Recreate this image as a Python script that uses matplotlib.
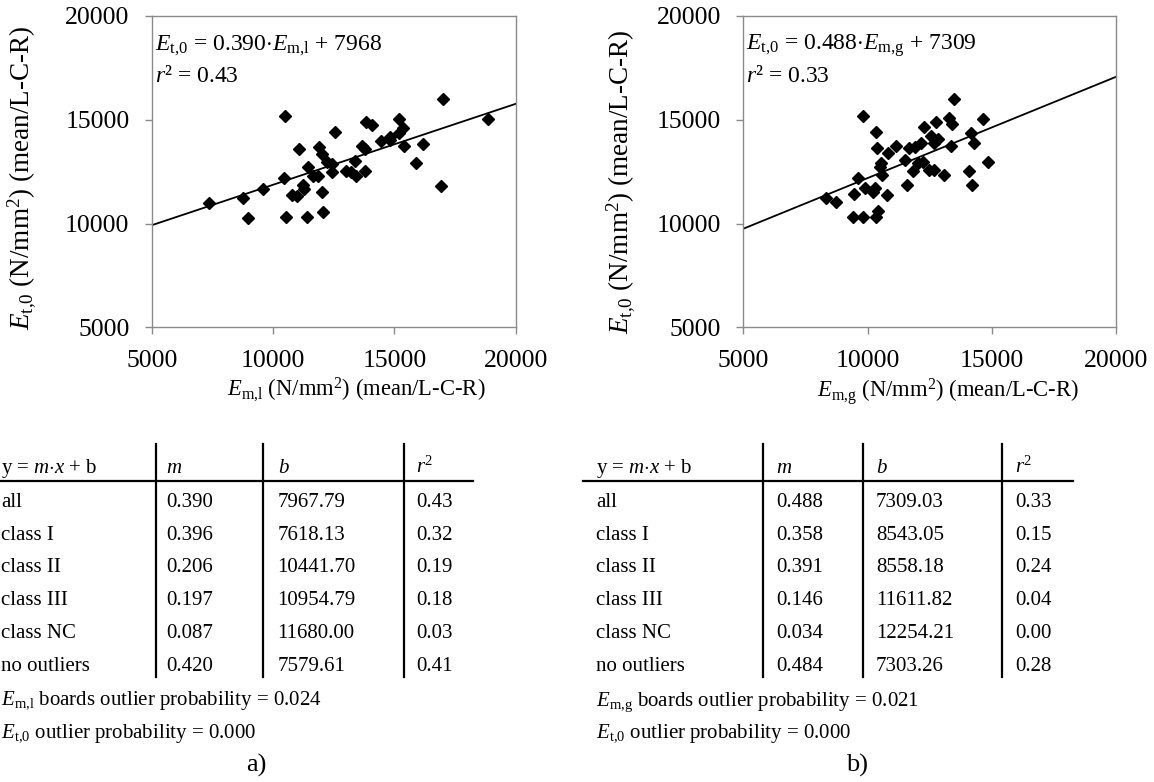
import matplotlib
matplotlib.use("Agg")
import matplotlib.pyplot as plt
from matplotlib.lines import Line2D
import numpy as np

plt.rcParams["font.family"] = ["Liberation Serif", "DejaVu Serif"]
plt.rcParams["mathtext.fontset"] = "custom"
plt.rcParams["mathtext.rm"] = "Liberation Serif"
plt.rcParams["mathtext.it"] = "Liberation Serif:italic"
plt.rcParams["mathtext.bf"] = "Liberation Serif:bold"

# --- data: board means (N/mm2) ---------------------------------------------
em_l = [7350, 8780, 8960, 9580, 10460, 10490, 10520, 10770, 10970, 11080,
        11240, 11270, 11380, 11450, 11650, 11860, 11900, 12000, 12020, 12060,
        12240, 12420, 12430, 12570, 13020, 13230, 13390, 13430, 13660, 13770,
        13810, 13840, 14070, 14430, 14800, 14840, 15180, 15210, 15340, 15410,
        15890, 16200, 16910, 17020, 18860]
et0_l = [11010, 11220, 10280, 11660, 12180, 15190, 10320, 11370, 11340, 13600,
         11860, 11660, 10320, 12740, 12310, 12310, 13710, 13360, 11500, 10560,
         12950, 12870, 12500, 14390, 12550, 12470, 13000, 12310, 13730, 13600,
         12550, 14890, 14730, 13960, 14040, 14170, 14360, 15060, 14620, 13730,
         12920, 13850, 11820, 15980, 15030]

em_g = [8330, 8720, 9460, 9430, 9630, 9810, 9830, 9900, 10230, 10300,
        10330, 10330, 10400, 10440, 10500, 10530, 10570, 10770, 10810, 11140,
        11510, 11580, 11680, 11840, 11910, 12050, 12140, 12250, 12290, 12490,
        12550, 12690, 12690, 12760, 12850, 13080, 13290, 13350, 13390, 13500,
        14100, 14170, 14220, 14300, 14660, 14840]
et0_g = [11250, 11020, 11410, 10330, 12180, 10330, 15200, 11700, 11540, 11700,
         10330, 14400, 13630, 10600, 12740, 12930, 12340, 11380, 13390, 13750,
         13060, 11860, 13630, 12530, 13670, 12900, 13870, 12980, 14640, 12580,
         14220, 12580, 13870, 14910, 14060, 12340, 15100, 13750, 14780, 15990,
         12530, 14350, 11860, 13870, 15040, 12950]

# regression summaries
fit_l = (0.390, 7968, 0.43)
fit_g = (0.488, 7309, 0.33)

row_names = ["all", "class I", "class II", "class III", "class NC", "no outliers"]
m_l = ["0.390", "0.396", "0.206", "0.197", "0.087", "0.420"]
b_l = ["7967.79", "7618.13", "10441.70", "10954.79", "11680.00", "7579.61"]
r2_l = ["0.43", "0.32", "0.19", "0.18", "0.03", "0.41"]
m_g = ["0.488", "0.358", "0.391", "0.146", "0.034", "0.484"]
b_g = ["7309.03", "8543.05", "8558.18", "11611.82", "12254.21", "7303.26"]
r2_g = ["0.33", "0.15", "0.24", "0.04", "0.00", "0.28"]

ticks = [5000, 10000, 15000, 20000]

W, H = 1154, 782
fig = plt.figure(figsize=(W / 100, H / 100), dpi=100)


def fx(x):
    return x / W


def fy(y):
    return 1 - y / H


def ftext(x, y, s, **kw):
    kw.setdefault("fontsize", 15)
    kw.setdefault("va", "baseline")
    fig.text(fx(x), fy(y), s, transform=fig.transFigure, **kw)


def fline(x0, y0, x1, y1, lw=1.6):
    fig.add_artist(Line2D([fx(x0), fx(x1)], [fy(y0), fy(y1)],
                          transform=fig.transFigure, color="black", lw=lw))


GREY = "#8a8a8a"


def scatter_panel(left_px, width_px, xs, ys, fit, xsub, eq_x):
    ax = fig.add_axes([fx(left_px), fy(327.3), width_px / W, (327.3 - 16) / H])
    ax.plot(xs, ys, "D", color="black", ms=5.8, mec="black")
    m, b, r2 = fit
    xl = np.array([5000, 20000])
    ax.plot(xl, m * xl + b, color="black", lw=1.3)
    ax.set_xlim(5000, 20000)
    ax.set_ylim(5000, 20000)
    ax.set_xticks(ticks)
    ax.set_yticks(ticks)
    for s in ax.spines.values():
        s.set_color(GREY)
        s.set_linewidth(1.0)
    ax.tick_params(axis="both", direction="out", color=GREY, width=1.0,
                   length=5, labelsize=18.5, pad=11)
    ax.set_xlabel(r"$E_{\mathrm{%s}}$ (N/mm$^2$) (mean/L-C-R)" % xsub,
                  fontsize=16.3)
    ax.set_ylabel(r"$E_{\mathrm{t{,}0}}$ (N/mm$^2$) (mean/L-C-R)",
                  fontsize=19.5)
    ftext(eq_x, 50, r"$E_{\mathrm{t{,}0}}$ = %.3f$\cdot E_{\mathrm{%s}}$ + %d"
          % (m, xsub, b), fontsize=17)
    ftext(eq_x, 81.5, r"$r$² = %.2f" % r2, fontsize=17)
    return ax


ax1 = scatter_panel(151.7, 364.0, em_l, et0_l, fit_l, "m{,}l", 155)
ax2 = scatter_panel(743.3, 372.7, em_g, et0_g, fit_g, "m{,}g", 746)

ax1.xaxis.set_label_coords((356 - 151.7) / 364.0, -0.155)
ax2.xaxis.set_label_coords((948 - 743.3) / 372.7, -0.155)
ax1.yaxis.set_label_coords(-0.312, 0.48)
ax2.yaxis.set_label_coords(-0.285, 0.468)


def table(x_cols, x_vlines, x_hline, ms, bs, r2s, sub, prob, label_x, tag):
    c0, c1, c2, c3 = x_cols
    ftext(c0, 473.3, r"y = $m{\cdot}x$ + b")
    ftext(c1, 473.3, r"$m$")
    ftext(c2, 473.3, r"$b$")
    ftext(c3, 473.3, r"$r^2$")
    fline(x_hline[0], 480.7, x_hline[1], 480.7)
    for xv in x_vlines:
        fline(xv, 444, xv, 677.3)
    for i, name in enumerate(row_names):
        yb = 506.7 + i * 32.8
        ftext(c0, yb, name)
        ftext(c1, yb, ms[i])
        ftext(c2, yb, bs[i])
        ftext(c3, yb, r2s[i])
    ftext(c0, 705.5, r"$E_{\mathrm{%s}}$ boards outlier probability = %s"
          % (sub, prob))
    ftext(c0, 738, r"$E_{\mathrm{t{,}0}}$ outlier probability = 0.000")
    ftext(label_x, 772, tag, fontsize=19, ha="center")


table((1, 166.5, 277.5, 416.5), (155.7, 263.3, 403.7), (0, 473),
      m_l, b_l, r2_l, "m{,}l", "0.024", 256.7, "a)")
table((596, 776, 876, 1015), (763.3, 862.7, 1002.3), (583.3, 1072.7),
      m_g, b_g, r2_g, "m{,}g", "0.021", 856.7, "b)")

fig.savefig("out.png", dpi=100)
